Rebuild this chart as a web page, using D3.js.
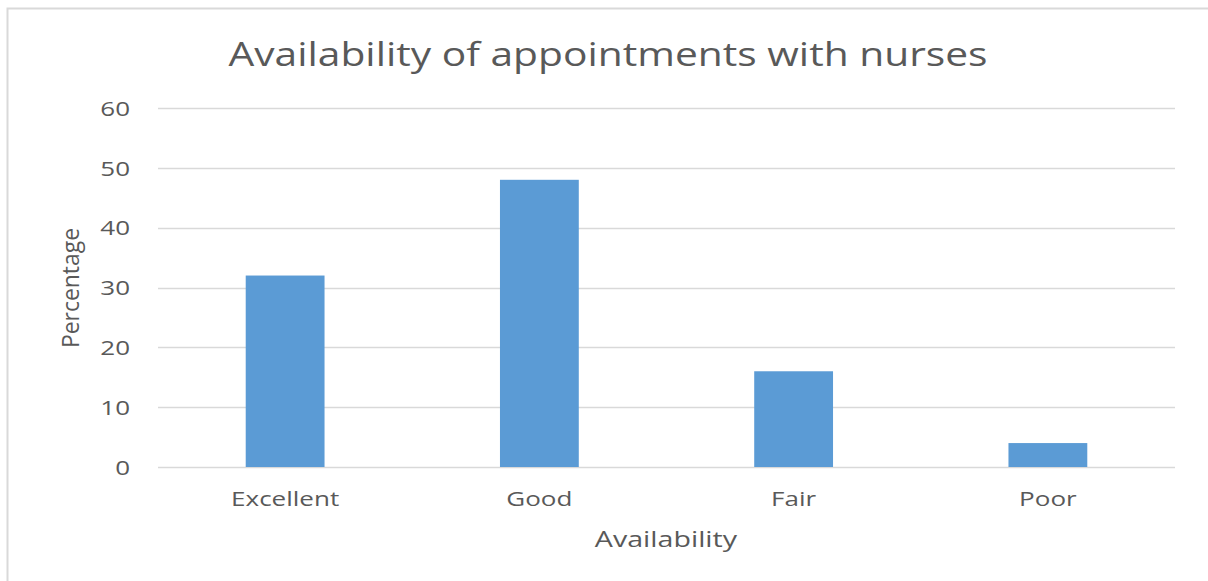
<!DOCTYPE html>
<html>
<head>
<meta charset="utf-8">
<script src="https://cdn.jsdelivr.net/npm/d3@7"></script>
<style>
  body { margin: 0; background: #fff; }
  svg { display: block; }
  svg text { font-family: "Open Sans", "Noto Sans", sans-serif; }
</style>
</head>
<body>
<div id="chart"></div>
<script>
var categories = ["Excellent", "Good", "Fair", "Poor"];
var percentages = [32, 48, 16, 4];
var yTicks = [0, 10, 20, 30, 40, 50, 60];

var W = 1208, H = 581;
var margin = { top: 108, right: 33, bottom: 114, left: 158 },
    width = W - margin.left - margin.right,
    height = H - margin.top - margin.bottom;

// text in the reference is stretched horizontally by about 1.3
var stretch = 1.3;

var svg = d3.select("#chart")
  .append("svg")
  .attr("width", W)
  .attr("height", H);

// chart frame (cut off on right and bottom)
svg.append("path")
  .attr("d", "M7.5," + H + " V8.5 H" + W)
  .attr("fill", "none")
  .attr("stroke", "#d9d9d9")
  .attr("stroke-width", 2);

var g = svg.append("g")
  .attr("transform", "translate(" + margin.left + "," + margin.top + ")");

var x = d3.scaleBand().domain(categories).range([0, width]).paddingInner(0.69).paddingOuter(0.345);
var y = d3.scaleLinear().domain([0, 60]).range([height, 0]);

function widen(sel) {
  sel.each(function () {
    var t = d3.select(this);
    var w = this.getComputedTextLength();
    t.attr("textLength", w * stretch).attr("lengthAdjust", "spacingAndGlyphs");
  });
}

// gridlines
g.selectAll(".grid")
  .data(yTicks)
  .enter()
  .append("line")
  .attr("x1", 0)
  .attr("x2", width)
  .attr("y1", function (d) { return Math.round(y(d)) + 0.5; })
  .attr("y2", function (d) { return Math.round(y(d)) + 0.5; })
  .attr("stroke", "#d9d9d9")
  .attr("stroke-width", 1.5);

// y axis labels
var yAxis = d3.axisLeft(y).tickValues(yTicks).tickSize(0).tickPadding(28);
g.append("g")
  .call(yAxis)
  .attr("font-family", null)
  .call(function (s) { s.select(".domain").remove(); })
  .selectAll("text")
  .attr("fill", "#595959")
  .attr("dy", "0.36em")
  .style("font-size", "20px")
  .call(widen);

// bars
g.selectAll(".bar")
  .data(percentages)
  .enter()
  .append("rect")
  .attr("class", "bar")
  .attr("x", function (d, i) { return x(categories[i]); })
  .attr("width", x.bandwidth())
  .attr("y", function (d) { return y(d); })
  .attr("height", function (d) { return height - y(d); })
  .attr("fill", "#5b9bd5");

// x axis labels
var xAxis = d3.axisBottom(x).tickSize(0).tickPadding(25);
g.append("g")
  .attr("transform", "translate(0," + height + ")")
  .call(xAxis)
  .attr("font-family", null)
  .call(function (s) { s.select(".domain").remove(); })
  .selectAll("text")
  .attr("fill", "#595959")
  .style("font-size", "20px")
  .call(widen);

// axis titles
svg.append("text")
  .attr("x", 666)
  .attr("y", 547)
  .attr("text-anchor", "middle")
  .attr("fill", "#595959")
  .style("font-size", "22px")
  .text("Availability")
  .call(widen);

svg.append("text")
  .attr("transform", "translate(79,288) rotate(-90)")
  .attr("text-anchor", "middle")
  .attr("fill", "#595959")
  .style("font-size", "24px")
  .attr("textLength", 120)
  .attr("lengthAdjust", "spacingAndGlyphs")
  .text("Percentage");

// title
svg.append("text")
  .attr("x", 608)
  .attr("y", 66)
  .attr("text-anchor", "middle")
  .attr("fill", "#595959")
  .attr("textLength", 759)
  .attr("lengthAdjust", "spacingAndGlyphs")
  .style("font-size", "32px")
  .text("Availability of appointments with nurses");
</script>
</body>
</html>
